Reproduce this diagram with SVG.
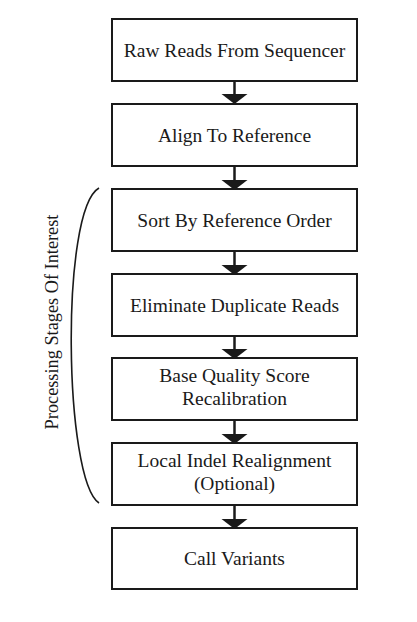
<svg xmlns="http://www.w3.org/2000/svg" width="417" height="622" viewBox="0 0 417 622">
<style>
.box{fill:#fff;stroke:#1a1a1a;stroke-width:2}
.t{font-family:"Liberation Serif",serif;font-size:19.5px;fill:#1a1a1a;text-anchor:middle}
.side{font-size:18.3px}
.c{stroke:#1a1a1a;stroke-width:2.5;fill:none}
.ah{fill:#1a1a1a}
</style>
<rect width="417" height="622" fill="#fff"/>
<g id="connectors">
<line class="c" x1="234.5" y1="81" x2="234.5" y2="95"/>
<path class="ah" d="M221.5,94 L247.5,94 L234.5,104 Z"/>
<line class="c" x1="234.5" y1="166" x2="234.5" y2="180"/>
<path class="ah" d="M221.5,180 L247.5,180 L234.5,190 Z"/>
<line class="c" x1="234.5" y1="251" x2="234.5" y2="265"/>
<path class="ah" d="M221.5,265 L247.5,265 L234.5,275 Z"/>
<line class="c" x1="234.5" y1="336" x2="234.5" y2="349"/>
<path class="ah" d="M221.5,349 L247.5,349 L234.5,359 Z"/>
<line class="c" x1="234.5" y1="420" x2="234.5" y2="434"/>
<path class="ah" d="M221.5,434 L247.5,434 L234.5,444 Z"/>
<line class="c" x1="234.5" y1="505" x2="234.5" y2="519"/>
<path class="ah" d="M221.5,519 L247.5,519 L234.5,529 Z"/>
</g>
<g id="n1"><rect class="box" x="112" y="19" width="245" height="62"/><text class="t" x="234.5" y="57">Raw Reads From Sequencer</text></g>
<g id="n2"><rect class="box" x="112" y="104" width="245" height="62"/><text class="t" x="234.5" y="142">Align To Reference</text></g>
<g id="n3"><rect class="box" x="112" y="189" width="245" height="62"/><text class="t" x="234.5" y="227">Sort By Reference Order</text></g>
<g id="n4"><rect class="box" x="112" y="274" width="245" height="62"/><text class="t" x="234.5" y="312">Eliminate Duplicate Reads</text></g>
<g id="n5"><rect class="box" x="112" y="358" width="245" height="62"/><text class="t" x="234.5" y="382">Base Quality Score</text><text class="t" x="234.5" y="405">Recalibration</text></g>
<g id="n6"><rect class="box" x="112" y="443" width="245" height="62"/><text class="t" x="234.5" y="467">Local Indel Realignment</text><text class="t" x="234.5" y="490">(Optional)</text></g>
<g id="n7"><rect class="box" x="112" y="528" width="245" height="61"/><text class="t" x="234.5" y="565">Call Variants</text></g>
<g id="bracket">
<path d="M99,188 C60,210 64,480 99,503" fill="none" stroke="#1a1a1a" stroke-width="1.6"/>
<text class="t side" transform="translate(58,322) rotate(-90)">Processing Stages Of Interest</text>
</g>
</svg>
